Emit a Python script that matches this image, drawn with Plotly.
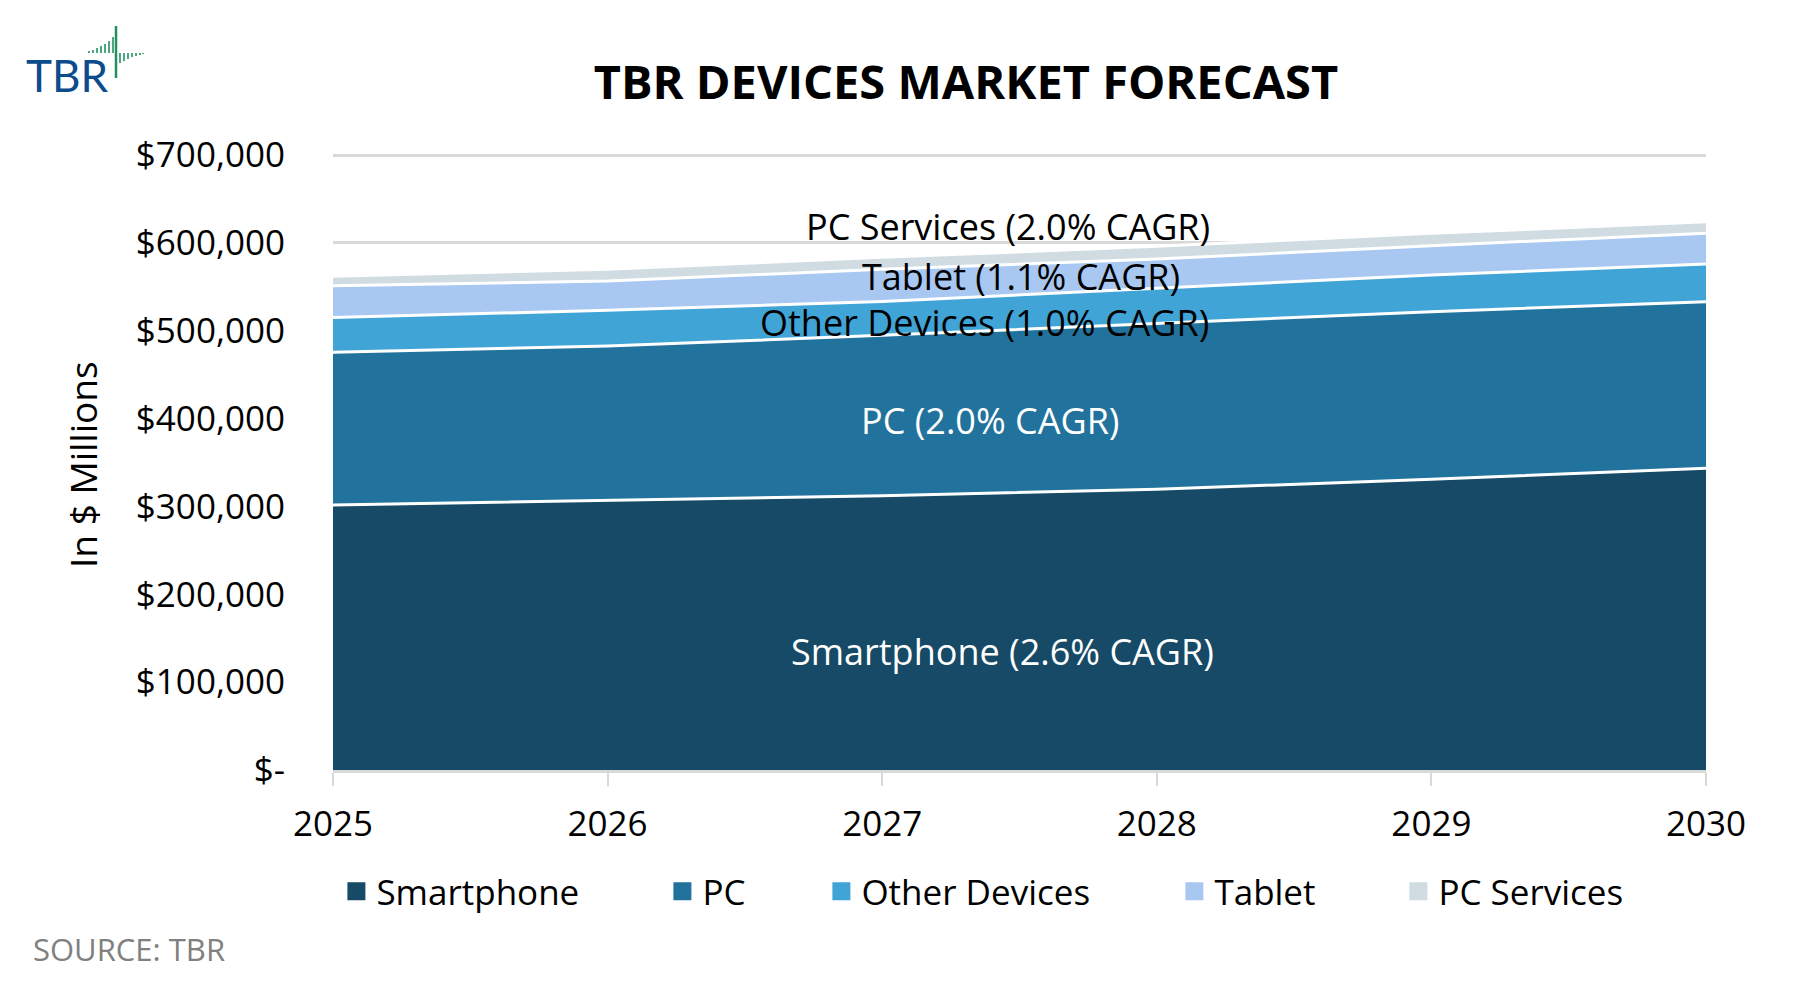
import plotly.graph_objects as go

# Data (US$ millions)
years = [2025, 2026, 2027, 2028, 2029, 2030]
year_labels = ['2025', '2026', '2027', '2028', '2029', '2030']

smartphone = [301600, 307300, 312200, 319500, 330900, 343400]
pc = [173800, 175400, 182500, 188500, 190800, 189600]
other_devices = [39600, 40600, 38500, 40000, 41700, 43000]
tablet = [36200, 33300, 36700, 33500, 33400, 35000]
pc_services = [10800, 13300, 13600, 14500, 14000, 13000]

series_names = ['Smartphone', 'PC', 'Other Devices', 'Tablet', 'PC Services']
series_labels = ['Smartphone (2.6% CAGR)', 'PC (2.0% CAGR)', 'Other Devices (1.0% CAGR)',
                 'Tablet (1.1% CAGR)', 'PC Services (2.0% CAGR)']

y_ticks = [0, 100000, 200000, 300000, 400000, 500000, 600000, 700000]
y_tick_labels = ['$-', '$100,000', '$200,000', '$300,000', '$400,000',
                 '$500,000', '$600,000', '$700,000']

colors = ['#164A66', '#21729C', '#40A4D6', '#A8C8F2', '#D0DCE2']
FONT = 'Open Sans'

# page has an 8px body margin, so work in screen pixels and shift the figure
OFF = 8
W, H = 1802 - 2 * OFF, 981 - 2 * OFF
GRID_TOP, PL, PR, PB = 155, 333, 1706, 770   # screen px of 700k line / plot edges
PT = 153                                      # plot top, a hair above the 700k line
y_top = y_ticks[-1] * (PB - PT) / (PB - GRID_TOP)


def px(x):
    return (x - PL) / (PR - PL)


def py(y):
    return (PB - y) / (PB - PT)


fig = go.Figure()

all_series = [smartphone, pc, other_devices, tablet, pc_services]
for name, vals, c in zip(series_names, all_series, colors):
    fig.add_trace(go.Scatter(
        x=years, y=vals, name=name, stackgroup='one', mode='lines',
        line=dict(color='white', width=3), fillcolor=c, showlegend=False))

# legend entries, each one in its own legend box
legend_left = [349, 675, 834, 1187, 1411]
legend_ids = ['legend', 'legend2', 'legend3', 'legend4', 'legend5']
for name, c, lid in zip(series_names, colors, legend_ids):
    fig.add_trace(go.Scatter(
        x=[None], y=[None], name=name, mode='markers', legend=lid,
        marker=dict(symbol='square', size=16, color=c, line=dict(color=c, width=2))))

legends = {}
for lid, left in zip(legend_ids, legend_left):
    legends[lid] = dict(x=px(left - 12.6), y=py(891.6), xanchor='left', yanchor='middle',
                        bgcolor='rgba(0,0,0,0)', itemsizing='trace',
                        font=dict(family=FONT, size=35, color='black'))

# in-chart labels
label_pos = [(1002, 651, 'white'), (990, 420, 'white'), (984, 322, 'black'),
             (1021, 276, 'black'), (1008, 226, 'black')]
annotations = []
for text, (lx, ly, fc) in zip(series_labels, label_pos):
    annotations.append(dict(x=px(lx), y=py(ly), xref='paper', yref='paper', text=text,
                            showarrow=False, xanchor='center', yanchor='middle',
                            font=dict(family=FONT, size=36, color=fc)))

annotations.append(dict(x=px(83), y=py(465), xref='paper', yref='paper', text='In $ Millions',
                        showarrow=False, textangle=-90, xanchor='center', yanchor='middle',
                        font=dict(family=FONT, size=37, color='black')))
annotations.append(dict(x=px(30.5), y=py(949), xref='paper', yref='paper', text='SOURCE: TBR',
                        showarrow=False, xanchor='left', yanchor='middle',
                        font=dict(family=FONT, size=31, color='#808080')))
annotations.append(dict(x=px(24), y=py(75), xref='paper', yref='paper', text='TBR',
                        showarrow=False, xanchor='left', yanchor='middle',
                        font=dict(family='Lato', size=44, color='#0D4C8C')))

# logo mark
green = '#22915F'
shapes = [dict(type='line', xref='paper', yref='paper', x0=px(116), x1=px(116),
               y0=py(26), y1=py(78), line=dict(color=green, width=2.5))]
for bx, top in zip([89, 93, 97, 101, 105, 109, 113], [51, 50, 48, 46, 44, 41, 37]):
    shapes.append(dict(type='line', xref='paper', yref='paper', x0=px(bx), x1=px(bx),
                       y0=py(53), y1=py(top), line=dict(color=green, width=1.6)))
for bx, bot in zip([120, 124, 128, 132, 136, 140, 143], [63, 61, 59, 57, 56, 55, 54]):
    shapes.append(dict(type='line', xref='paper', yref='paper', x0=px(bx), x1=px(bx),
                       y0=py(53), y1=py(bot), line=dict(color=green, width=1.6)))

fig.update_layout(
    width=W, height=H,
    margin=dict(l=PL - OFF, r=W - (PR - OFF), t=PT - OFF, b=H - (PB - OFF)),
    paper_bgcolor='white', plot_bgcolor='white',
    font=dict(family=FONT, color='black'),
    title=dict(text='<b>TBR DEVICES MARKET FORECAST</b>', x=(966 - OFF) / W,
               y=1 - (82.7 - OFF) / H,
               xref='container', yref='container', xanchor='center', yanchor='middle',
               font=dict(family=FONT, size=47, color='black')),
    xaxis=dict(range=[years[0], years[-1]], tickvals=years, ticktext=year_labels,
               showgrid=False, zeroline=False, showline=True, linecolor='#D9D9D9',
               linewidth=3, ticks='outside', ticklen=13, tickwidth=2, tickcolor='#D9D9D9',
               ticklabelstandoff=8, tickfont=dict(family=FONT, size=35, color='black')),
    yaxis=dict(range=[0, y_top], tickvals=y_ticks, ticktext=y_tick_labels,
               showgrid=True, gridcolor='#D9D9D9', gridwidth=3, zeroline=False,
               showline=False, ticklabelstandoff=47,
               tickfont=dict(family=FONT, size=35, color='black')),
    annotations=annotations,
    shapes=shapes,
    hovermode=False,
    **legends,
)

fig.write_html('out.html')
